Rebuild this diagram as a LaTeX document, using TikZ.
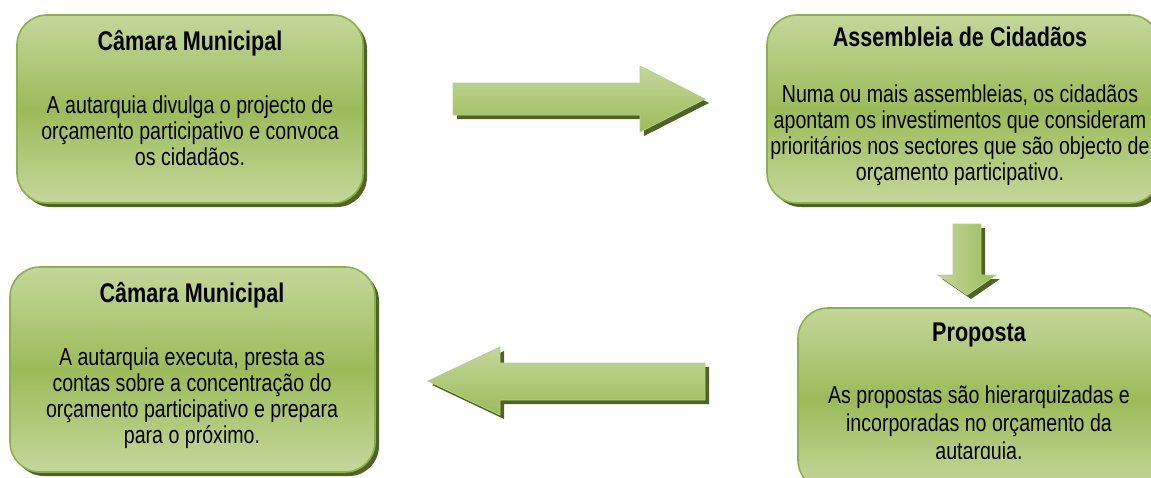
\documentclass[tikz,border=0pt]{standalone}
\usepackage{fontspec}
\setmainfont[FakeStretch=0.8]{Liberation Sans}
\usetikzlibrary{shadows}
\definecolor{gLight}{HTML}{C4D79B}
\definecolor{gMid}{HTML}{9BBB59}
\definecolor{gEdge}{HTML}{8EB04A}
\definecolor{gShadow}{HTML}{4F6228}
\definecolor{gArrowEdge}{HTML}{B9D08A}
\tikzset{
  box/.style={draw=gEdge, line width=1.6pt, rounded corners=30pt,
    top color=gLight, bottom color=gLight, middle color=gMid,
    inner sep=0pt,
    drop shadow={shadow xshift=4pt, shadow yshift=-4pt, fill=gShadow, opacity=1}},
  ttl/.style={font=\fontsize{27}{30}\selectfont\bfseries, text=black, inner sep=0pt},
  body/.style={font=\fontsize{24.5}{26}\selectfont, text=black, align=center, inner sep=0pt},
  harrow/.style={draw=gArrowEdge, line width=0.8pt, top color=gLight, bottom color=gMid,
    drop shadow={shadow xshift=4pt, shadow yshift=-4pt, fill=gShadow, opacity=1}},
  varrow/.style={draw=gArrowEdge, line width=0.8pt, left color=gLight, right color=gMid,
    drop shadow={shadow xshift=4pt, shadow yshift=-4pt, fill=gShadow, opacity=1}}
}
\begin{document}
\begin{tikzpicture}[x=1pt, y=-1pt]
\useasboundingbox (0,0) rectangle (1151,477);
% boxes
\node[box, minimum width=346pt, minimum height=188pt] (b1) at (190,109) {};
\node[box, minimum width=393pt, minimum height=188pt] (b2) at (963.5,109) {};
\node[box, minimum width=362pt, minimum height=182pt] (b3) at (979,399) {};
\node[box, minimum width=365pt, minimum height=205pt] (b4) at (192.5,369.5) {};
% texts
\node[ttl] (t1) at (190,43) {Câmara Municipal};
\node[body] (d1) at (190,131) {A autarquia divulga o projecto de\\orçamento participativo e convoca\\os cidadãos.};
\node[ttl] (t2) at (960,37) {Assembleia de Cidadãos};
\node[body] (d2) at (960,135) {Numa ou mais assembleias, os cidadãos\\apontam os investimentos que consideram\\prioritários nos sectores que são objecto de\\orçamento participativo.};
\node[ttl] (t3) at (979,335) {Proposta};
\begin{scope}
  \clip (780,300) rectangle (1151,458);
  \node[body, font=\fontsize{24.5}{28}\selectfont] (d3) at (979,425) {As propostas são hierarquizadas e\\incorporadas no orçamento da\\autarquia.};
\end{scope}
\node[ttl] (t4) at (192,295) {Câmara Municipal};
\node[body] (d4) at (192,398) {A autarquia executa, presta as\\contas sobre a concentração do\\orçamento participativo e prepara\\para o próximo.};
% block arrows
\draw[harrow] (453,83) -- (640,83) -- (640,66) -- (705,99) -- (640,132) -- (640,115) -- (453,115) -- cycle;
\draw[varrow] (953,224) -- (981,224) -- (981,275) -- (996,275) -- (967,295) -- (938,275) -- (953,275) -- cycle;
\draw[harrow] (705,363) -- (500,363) -- (500,347) -- (428,381) -- (500,415) -- (500,400) -- (705,400) -- cycle;
\end{tikzpicture}
\end{document}
